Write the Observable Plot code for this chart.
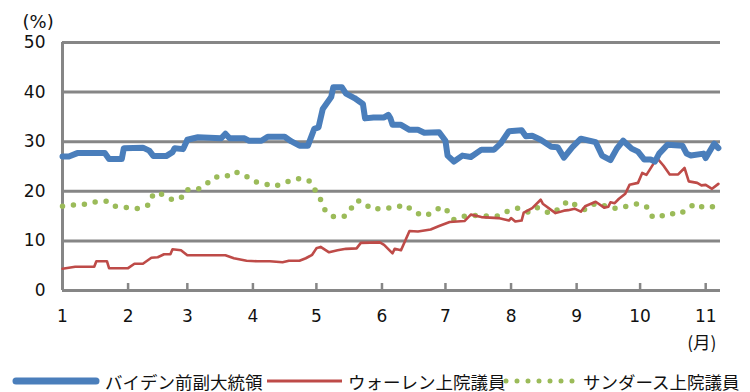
<!DOCTYPE html>
<html><head><meta charset="utf-8">
<script src="https://cdn.jsdelivr.net/npm/d3@7"></script>
<script src="https://cdn.jsdelivr.net/npm/@observablehq/plot@0.6"></script>
<style>
body{margin:0;background:#fff;}
#wrap{position:relative;width:750px;height:392px;overflow:hidden;background:#fff;}
#legend{position:absolute;left:0;top:369px;width:750px;height:24px;font-family:"Noto Sans CJK JP",sans-serif;font-size:17.5px;color:#111;}
#legend .item{position:absolute;top:0;height:24px;display:flex;align-items:center;white-space:nowrap;}
#legend svg{margin-right:5px;}
</style></head><body><div id="wrap"><div id="chart"></div><div id="legend"></div></div>
<script>
const seriesNames = ["バイデン前副大統領", "ウォーレン上院議員", "サンダース上院議員"];
const seriesColors = ["#4a7ebb", "#be4b48", "#9bbb59"];
const yTicks = [0, 10, 20, 30, 40, 50];
const xTickLabels = ["1","2","3","4","5","6","7","8","9","10","11"];

const bidenDates = ["01-01","01-04","01-08","01-21","01-23","01-29","01-30","02-08","02-11","02-13","02-19","02-22","02-23","02-27","03-01","03-06","03-17","03-19","03-21","03-28","03-30","04-05","04-08","04-16","04-19","04-23","04-27","04-30","05-02","05-04","05-08","05-09","05-13","05-15","05-19","05-23","05-24","05-28","06-02","06-04","06-05","06-06","06-10","06-14","06-18","06-21","06-28","07-01","07-02","07-05","07-09","07-13","07-18","07-24","07-27","07-31","08-06","08-08","08-11","08-15","08-20","08-23","08-26","08-30","09-03","09-10","09-13","09-17","09-20","09-23","09-27","09-30","10-03","10-06","10-08","10-10","10-14","10-21","10-23","10-25","10-31","11-01","11-05","11-07"];
const bidenValues = [27.0,27.0,27.7,27.7,26.5,26.5,28.7,28.8,28.2,27.1,27.1,27.9,28.7,28.5,30.4,30.9,30.7,31.6,30.7,30.7,30.2,30.2,31.0,31.0,30.1,29.2,29.2,32.6,32.9,36.6,39.0,41.0,41.0,39.7,38.8,37.6,34.7,34.9,34.9,35.4,34.7,33.4,33.4,32.4,32.4,31.8,31.9,30.2,27.2,26.0,27.2,26.9,28.4,28.4,29.6,32.1,32.3,31.1,31.2,30.4,29.0,28.9,26.8,28.9,30.6,29.9,27.2,26.3,28.6,30.2,28.6,28.0,26.4,26.4,26.0,27.6,29.4,29.2,27.6,27.2,27.6,26.7,29.6,28.7];

const warrenDates = ["01-01","01-07","01-16","01-17","01-22","01-23","02-01","02-04","02-08","02-12","02-15","02-18","02-21","02-22","02-26","03-01","03-19","03-23","03-29","04-03","04-09","04-15","04-18","04-23","04-26","04-29","05-01","05-03","05-07","05-11","05-15","05-20","05-22","05-31","06-02","06-06","06-07","06-10","06-14","06-18","06-24","06-28","07-03","07-10","07-13","07-18","07-26","07-31","08-01","08-03","08-06","08-07","08-11","08-15","08-16","08-22","08-26","08-28","08-31","09-03","09-05","09-10","09-14","09-16","09-17","09-19","09-21","09-24","09-26","09-30","10-02","10-04","10-09","10-12","10-15","10-19","10-22","10-24","10-28","10-30","11-01","11-04","11-07"];
const warrenValues = [4.4,4.8,4.8,5.9,5.9,4.5,4.5,5.4,5.4,6.6,6.7,7.3,7.3,8.3,8.1,7.1,7.1,6.5,6.0,5.9,5.9,5.7,6.0,6.0,6.5,7.2,8.5,8.8,7.7,8.1,8.4,8.5,9.6,9.7,9.2,7.5,8.4,8.1,12.0,11.9,12.3,13.0,13.8,14.0,15.3,14.8,14.6,14.1,14.6,13.9,14.1,15.7,16.6,18.3,17.5,15.6,16.1,16.2,16.5,15.9,17.0,17.9,16.7,16.9,17.8,17.6,18.5,19.5,21.3,21.7,23.7,23.3,26.7,25.2,23.4,23.4,24.7,22.0,21.7,21.2,21.3,20.5,21.5];

const sandersDates = ["01-01","01-07","01-12","01-17","01-23","01-26","02-01","02-06","02-11","02-13","02-17","02-22","02-26","02-28","03-06","03-10","03-14","03-19","03-23","03-28","04-01","04-06","04-11","04-16","04-20","04-24","04-28","05-01","05-03","05-05","05-09","05-14","05-17","05-20","05-23","05-27","06-01","06-07","06-12","06-16","06-21","06-25","06-29","07-02","07-05","07-10","07-15","07-20","07-26","07-30","08-04","08-09","08-13","08-15","08-20","08-24","08-28","09-01","09-05","09-10","09-15","09-20","09-25","09-30","10-04","10-06","10-09","10-14","10-19","10-23","10-27","10-31","11-05"];
const sandersValues = [17.0,17.3,17.4,17.9,18.0,17.0,16.7,16.5,17.3,19.6,19.4,18.3,18.6,20.3,20.4,21.5,22.9,22.9,24.0,23.3,22.0,21.6,21.0,21.7,22.4,22.6,22.0,19.8,18.3,16.3,14.9,14.9,16.3,18.1,17.9,16.4,16.5,16.7,17.3,15.9,15.0,15.7,16.9,16.0,14.3,15.0,15.1,15.0,15.0,15.9,16.6,15.8,16.8,16.3,15.5,16.6,18.1,17.1,16.3,17.6,17.0,16.5,17.0,17.5,16.9,15.1,14.6,15.6,15.3,16.3,17.5,16.7,16.9];

const year = 2019;
const toDate = s => new Date(`${year}-${s}T00:00:00Z`);
const rows = (dates, values, name) => dates.map((d, i) => ({date: toDate(d), value: values[i], name}));
const biden = rows(bidenDates, bidenValues, seriesNames[0]);
const warren = rows(warrenDates, warrenValues, seriesNames[1]);
const sanders = rows(sandersDates, sandersValues, seriesNames[2]);
const monthTicks = xTickLabels.map((_, i) => new Date(Date.UTC(year, i, 1)));
const xDomain = [new Date(Date.UTC(year, 0, 1)), new Date(Date.UTC(year, 10, 8))];
const gray = "#868686";

const chart = Plot.plot({
  width: 750,
  height: 352,
  marginLeft: 62,
  marginRight: 30,
  marginTop: 42,
  marginBottom: 62,
  style: {fontFamily: "DejaVu Sans, sans-serif", fontSize: "17px", color: "#111", background: "#fff"},
  x: {type: "utc", domain: xDomain},
  y: {domain: [0, 50]},
  marks: [
    Plot.ruleY(yTicks, {stroke: gray, strokeWidth: 3}),
    Plot.ruleX([xDomain[0]], {stroke: gray, strokeWidth: 3}),
    Plot.ruleX(monthTicks, {x: d => d, y1: 0, y2: 0, insetTop: -7, stroke: gray, strokeWidth: 2.5}),
    Plot.axisY(yTicks, {tickSize: 0, tickPadding: 17, label: null, fontSize: 17}),
    Plot.axisX(monthTicks, {tickSize: 0, tickPadding: 19, label: null, fontSize: 17, tickFormat: d => xTickLabels[d.getUTCMonth()]}),
    Plot.line(sanders, {x: "date", y: "value", stroke: seriesColors[2], strokeWidth: 5.5, strokeLinecap: "round", strokeDasharray: "0 11"}),
    Plot.line(warren, {x: "date", y: "value", stroke: seriesColors[1], strokeWidth: 2.6, strokeLinejoin: "round"}),
    Plot.line(biden, {x: "date", y: "value", stroke: seriesColors[0], strokeWidth: 6, strokeLinejoin: "round"}),
    Plot.text(["(%)"], {frameAnchor: "top-left", dx: -40, dy: -27, textAnchor: "start", fontSize: 18}),
    Plot.text(["(月)"], {frameAnchor: "bottom-right", dx: -4, dy: 58, textAnchor: "end", fontSize: 17.5, fontFamily: "Noto Sans CJK JP"})
  ]
});
document.getElementById("chart").appendChild(chart);

const legend = document.getElementById("legend");
const positions = [12, 266, 503];
const swatchW = [88, 77, 75];
seriesNames.forEach((name, i) => {
  const item = document.createElement("div");
  item.className = "item";
  item.style.left = positions[i] + "px";
  const w = swatchW[i];
  let sw;
  if (i === 0) sw = `<svg width="${w}" height="12"><line x1="4" y1="6" x2="${w-4}" y2="6" stroke="${seriesColors[0]}" stroke-width="7" stroke-linecap="round"/></svg>`;
  else if (i === 1) sw = `<svg width="${w}" height="12"><line x1="1" y1="6" x2="${w-1}" y2="6" stroke="${seriesColors[1]}" stroke-width="3"/></svg>`;
  else sw = `<svg width="${w}" height="12"><line x1="3" y1="6" x2="${w-3}" y2="6" stroke="${seriesColors[2]}" stroke-width="5" stroke-linecap="round" stroke-dasharray="0 11"/></svg>`;
  item.innerHTML = sw + `<span>${name}</span>`;
  legend.appendChild(item);
});
</script>
</body></html>
